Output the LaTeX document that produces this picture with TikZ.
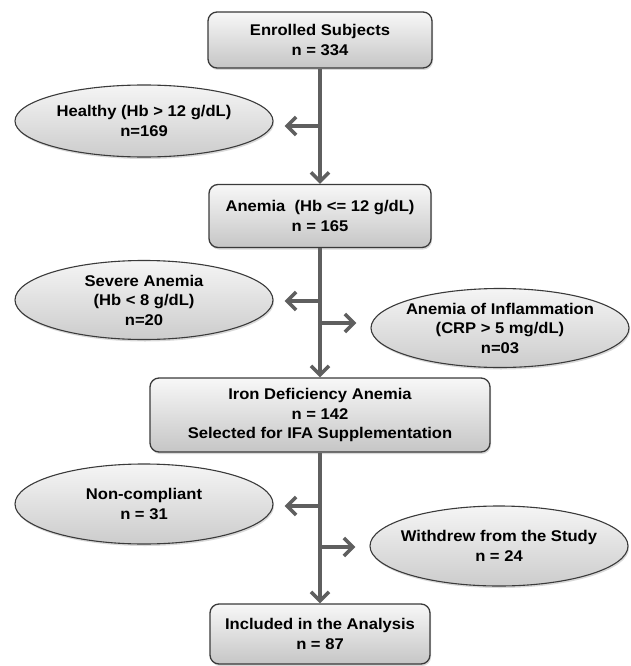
\documentclass[tikz,border=0pt]{standalone}
\usepackage{fontspec}
\setmainfont{Liberation Sans}[FakeStretch=1.07]
\usepackage{tikz}
\usetikzlibrary{positioning,shapes.geometric,arrows.meta,shadows}

\definecolor{linegray}{HTML}{5F5F5F}
\definecolor{edgegray}{HTML}{3A3A3A}

\begin{document}
\begin{tikzpicture}[x=1pt, y=-1pt,
    font=\bfseries\fontsize{15.5}{19.5}\selectfont,
    box/.style={rectangle, draw=edgegray, line width=1.3pt, rounded corners=9pt, text centered, align=center,
        top color=gray!6, bottom color=gray!45, inner sep=2pt,
        drop shadow={opacity=0.3, shadow xshift=1pt, shadow yshift=-2pt}},
    oval/.style={ellipse, draw=edgegray, line width=1.1pt, align=center, minimum width=258pt,
        inner xsep=-30pt, inner ysep=0pt,
        top color=gray!8, bottom color=gray!40,
        drop shadow={opacity=0.3, shadow xshift=1pt, shadow yshift=-2pt}},
    arrow/.style={draw=linegray, line width=3.6pt, -{Straight Barb[length=9pt,width=18pt]}}]

    \useasboundingbox (0,0) rectangle (630,666);

    % main column
    \node (enrolled) [box, minimum width=224pt, minimum height=56pt] at (320,40) {Enrolled Subjects\\n = 334};
    \node (anemia) [box, minimum width=222pt, minimum height=63pt] at (320,216) {Anemia~ (Hb <= 12 g/dL)\\n = 165};
    \node (ida) [box, minimum width=340pt, minimum height=74pt] at (320,415) {Iron Deficiency Anemia\\n = 142\\Selected for IFA Supplementation};
    \node (included) [box, minimum width=220pt, minimum height=60pt] at (320,634) {Included in the Analysis\\n = 87};

    % excluded groups
    \node (healthy) [oval, minimum height=72pt] at (144,121) {Healthy (Hb > 12 g/dL)\\n=169};
    \node (severe) [oval, minimum height=79pt] at (144,300) {Severe Anemia\\(Hb < 8 g/dL)\\n=20};
    \node (inflam) [oval, minimum height=79pt] at (500,328) {Anemia of Inflammation\\(CRP > 5 mg/dL)\\n=03};
    \node (noncomp) [oval, minimum height=80pt] at (144,504) {Non-compliant\\n = 31};
    \node (withdrew) [oval, minimum height=80pt] at (499,546) {Withdrew from the Study\\n = 24};

    \coordinate (b1) at (320,126);
    \coordinate (b2) at (320,301);
    \coordinate (b3) at (320,323);
    \coordinate (b4) at (320,506);
    \coordinate (b5) at (320,547);

    \draw [arrow] (enrolled.south) -- (anemia.north);
    \draw [arrow] (anemia.south) -- (ida.north);
    \draw [arrow] (ida.south) -- (included.north);

    \draw [arrow, shorten >=11pt] (b1) -- (b1 -| healthy.east);
    \draw [arrow, shorten >=11pt] (b2) -- (b2 -| severe.east);
    \draw [arrow, shorten >=14pt] (b3) -- (b3 -| inflam.west);
    \draw [arrow, shorten >=11pt] (b4) -- (b4 -| noncomp.east);
    \draw [arrow, shorten >=14pt] (b5) -- (b5 -| withdrew.west);
\end{tikzpicture}
\end{document}
